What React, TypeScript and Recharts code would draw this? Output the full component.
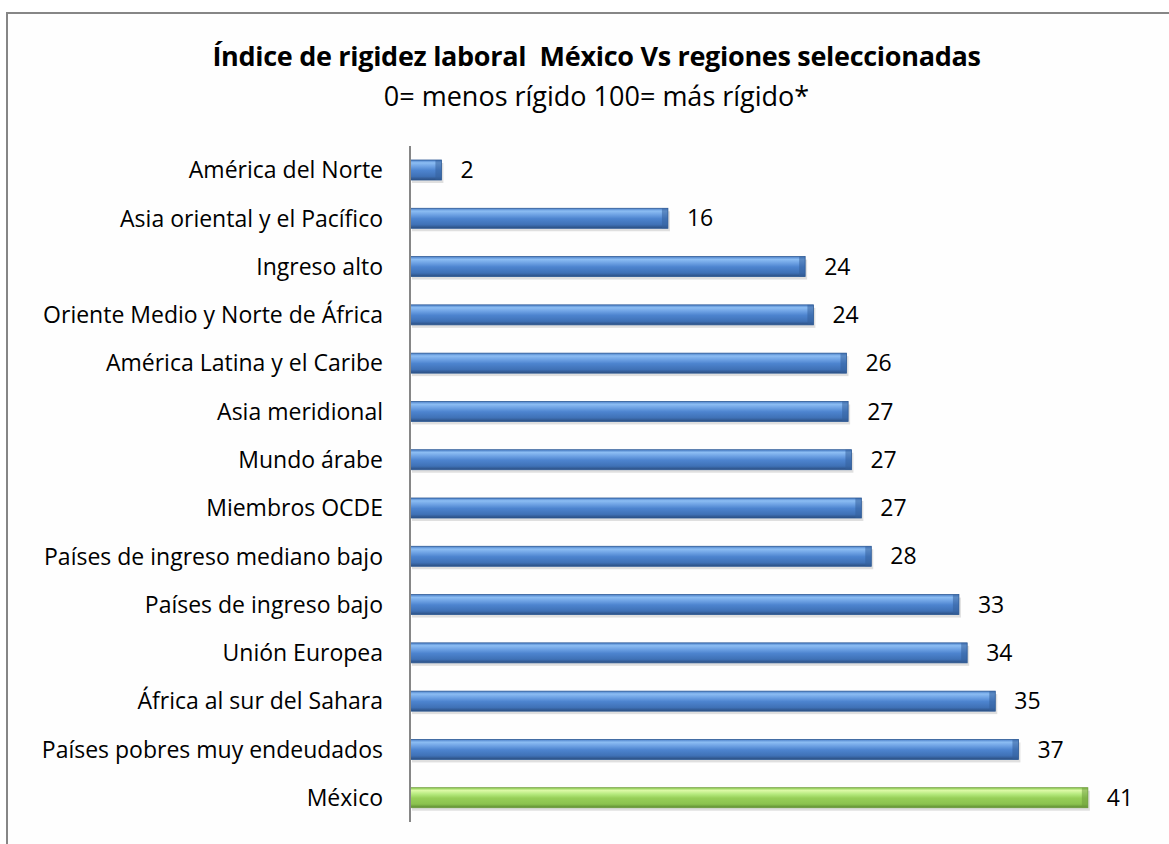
import { BarChart, Bar, XAxis, YAxis, Cell, LabelList } from 'recharts';

const regions = [
  'América del Norte',
  'Asia oriental y el Pacífico',
  'Ingreso alto',
  'Oriente Medio y Norte de África',
  'América Latina y el Caribe',
  'Asia meridional',
  'Mundo árabe',
  'Miembros OCDE',
  'Países de ingreso mediano bajo',
  'Países de ingreso bajo',
  'Unión Europea',
  'África al sur del Sahara',
  'Países pobres muy endeudados',
  'México',
];
const rigidez = [1.9, 15.6, 23.9, 24.4, 26.4, 26.5, 26.7, 27.3, 27.9, 33.2, 33.7, 35.4, 36.8, 41.0];
const shown = [2, 16, 24, 24, 26, 27, 27, 27, 28, 33, 34, 35, 37, 41];
const highlight = 'México';

const data = regions.map((name, i) => ({ name, value: rigidez[i], label: shown[i] }));

const FONT = '"Open Sans", Lato, sans-serif';

// bar with a bit of the old 3D bevel + drop shadow
function BevelBar(props: any) {
  const { x, y, width, height, payload } = props;
  if (!width || width <= 0) return null;
  const green = payload.name === highlight;
  const fill = green ? 'url(#gGreen)' : 'url(#gBlue)';
  const cap = green ? '#6e9c3c' : '#35609c';
  const capW = Math.min(6, width / 3);
  return (
    <g>
      <rect x={x + 2} y={y + 3} width={width} height={height} fill="#000" opacity={0.12} />
      <rect x={x} y={y} width={width} height={height} fill={fill} />
      <rect x={x + width - capW} y={y} width={capW} height={height} fill={cap} opacity={0.55} />
      <rect x={x} y={y} width={width} height={height} fill="none"
        stroke={green ? '#6e9c3c' : '#2f5b96'} strokeWidth={0.8} />
    </g>
  );
}

export default function App() {
  return (
    <div style={{ position: 'absolute', left: 0, top: 0, width: 1169, height: 844, overflow: 'hidden', background: '#fff' }}>
      <div style={{
        position: 'absolute', left: 6, top: 12, width: 1200, height: 900,
        borderTop: '2px solid #868686', borderLeft: '2px solid #868686', background: '#fefefe',
      }} />
      <div style={{
        position: 'absolute', left: 0, top: 37, width: 1193, textAlign: 'center',
        fontFamily: FONT, fontWeight: 700, fontSize: 27, lineHeight: '38px', color: '#000', letterSpacing: -0.3,
      }}>
        Índice de rigidez laboral&nbsp; México Vs regiones seleccionadas
      </div>
      <div style={{
        position: 'absolute', left: 0, top: 77, width: 1193, textAlign: 'center',
        fontFamily: FONT, fontSize: 27, lineHeight: '38px', color: '#000',
      }}>
        0= menos rígido 100= más rígido*
      </div>
      <div style={{ position: 'absolute', left: 0, top: 0 }}>
        <BarChart width={1169} height={844} data={data} layout="vertical"
          margin={{ top: 146, right: 15, left: 0, bottom: 22 }} barSize={20}>
          <defs>
            <linearGradient id="gBlue" x1="0" y1="0" x2="0" y2="1">
              <stop offset="0" stopColor="#4a7fc8" />
              <stop offset="0.14" stopColor="#8cbdf3" />
              <stop offset="0.32" stopColor="#6ea2e4" />
              <stop offset="0.52" stopColor="#4d84cf" />
              <stop offset="0.82" stopColor="#3f71b6" />
              <stop offset="1" stopColor="#2b4e80" />
            </linearGradient>
            <linearGradient id="gGreen" x1="0" y1="0" x2="0" y2="1">
              <stop offset="0" stopColor="#8ccc50" />
              <stop offset="0.14" stopColor="#dcf9a6" />
              <stop offset="0.32" stopColor="#b6ea7e" />
              <stop offset="0.52" stopColor="#97cf58" />
              <stop offset="0.82" stopColor="#8bc24e" />
              <stop offset="1" stopColor="#5b8a30" />
            </linearGradient>
          </defs>
          <XAxis type="number" domain={[0, 45]} hide />
          <YAxis type="category" dataKey="name" width={410} tickLine={false} tickSize={0}
            tickMargin={27} axisLine={{ stroke: '#868686', strokeWidth: 2 }}
            tick={{ fontFamily: FONT, fontSize: 23, fill: '#000' }} interval={0} />
          <Bar dataKey="value" isAnimationActive={false} shape={<BevelBar />}>
            {data.map((d) => (
              <Cell key={d.name} fill={d.name === highlight ? '#97cf58' : '#4d84cf'} />
            ))}
            <LabelList dataKey="label" position="right" offset={19}
              style={{ fontFamily: FONT, fontSize: 23, fill: '#000' }} />
          </Bar>
        </BarChart>
      </div>
    </div>
  );
}
